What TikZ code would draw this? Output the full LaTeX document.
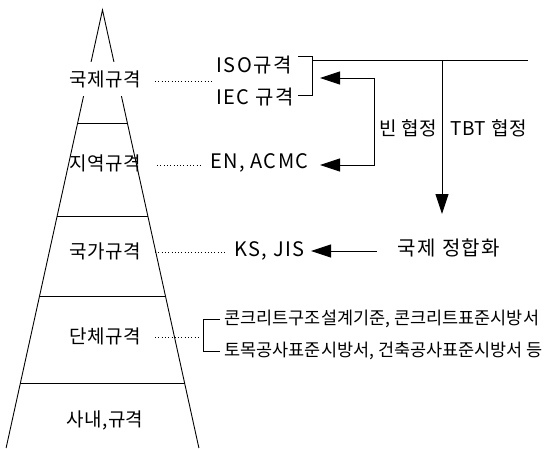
\documentclass[tikz,border=0pt]{standalone}
\usepackage{fontspec}
\setmainfont{Noto Sans CJK KR}
\usetikzlibrary{arrows.meta}
\begin{document}
\begin{tikzpicture}[x=1pt,y=-1pt, line width=0.9pt,
  big/.style={font=\fontsize{19}{21}\selectfont\addfontfeatures{LetterSpace=2}, inner sep=0pt},
  mid/.style={font=\fontsize{20}{22}\selectfont\addfontfeatures{LetterSpace=7}, inner sep=0pt},
  agr/.style={font=\fontsize{19}{21}\selectfont\addfontfeatures{LetterSpace=3}, inner sep=0pt},
  small/.style={font=\fontsize{17.5}{19}\selectfont, inner sep=0pt},
  dots/.style={line width=0.7pt, dash pattern=on 0.9pt off 2.4pt},
  arr/.style={-{Triangle[length=20pt,width=13pt]}},
]
\useasboundingbox (0,0) rectangle (554,448);
% pyramid
\coordinate (apex) at (102.5,10);
\coordinate (bl) at (6.1,448);
\coordinate (br) at (198.9,448);
\draw (bl) -- (apex) -- (br);
\draw (77.6,123) -- (127.4,123);
\draw (57.2,216) -- (147.8,216);
\draw (39.6,296) -- (165.4,296);
\draw (20.4,383) -- (184.6,383);
% level labels
\node[big, fill=white, minimum height=34pt, inner xsep=2pt] (l1) at (105,79) {국제규격};
\node[big] (l2) at (105,163) {지역규격};
\node[big] (l3) at (105,251) {국가규격};
\node[big] (l4) at (105,336) {단체규격};
\node[big] (l5) at (105,420) {사내,규격};
% right texts
\node[mid, anchor=east] (iso) at (292,65) {ISO규격};
\node[mid, anchor=east] (iec) at (294,97) {IEC 규격};
\node[mid, anchor=east] (en) at (309,163) {EN, ACMC};
\node[mid, anchor=east] (ks) at (305,251) {KS, JIS};
\node[mid] (harm) at (449,248) {국제 정합화};
\node[agr, anchor=west] (bin) at (379,128) {빈 협정};
\node[agr, anchor=west] (tbt) at (450,128) {TBT 협정};
\node[small, anchor=west] (c1) at (224,319) {콘크리트구조설계기준, 콘크리트표준시방서};
\node[small, anchor=west] (c2) at (224,351) {토목공사표준시방서, 건축공사표준시방서 등};
% dotted leaders
\coordinate (d1a) at (155,81); \coordinate (d1b) at (212,81);
\coordinate (d2a) at (157,165); \coordinate (d2b) at (200,165);
\coordinate (d3a) at (155,252); \coordinate (d3b) at (225,252);
\coordinate (d4a) at (155,337); \coordinate (d4b) at (201,337);
\draw[dots] (d1a) -- (d1b);
\draw[dots] (d2a) -- (d2b);
\draw[dots] (d3a) -- (d3b);
\draw[dots] (d4a) -- (d4b);
% ISO/IEC bracket and lines
\coordinate (bt) at (298,56); \coordinate (bb) at (298,95);
\draw (bt) -- (312,56) -- (312,95) -- (bb);
\coordinate (hj) at (312,60); \coordinate (hend) at (528,60);
\coordinate (vtop) at (442,60); \coordinate (vtip) at (442,214);
\draw (hj) -- (hend);
\draw[arr] (vtop) -- (vtip);
% regional agreement arrows
\coordinate (a1) at (320,78); \coordinate (a2) at (320,165);
\draw[{Triangle[length=20pt,width=13pt]}-{Triangle[length=20pt,width=13pt]}] (a1) -- (374,78) -- (374,165) -- (a2);
% harmonisation arrow
\coordinate (ktip) at (311,251); \coordinate (kstart) at (377,251);
\draw[arr] (kstart) -- (ktip);
% group bracket
\draw[line width=0.8pt] (220,319) -- (203,319) -- (203,351) -- (220,351);
\end{tikzpicture}
\end{document}
